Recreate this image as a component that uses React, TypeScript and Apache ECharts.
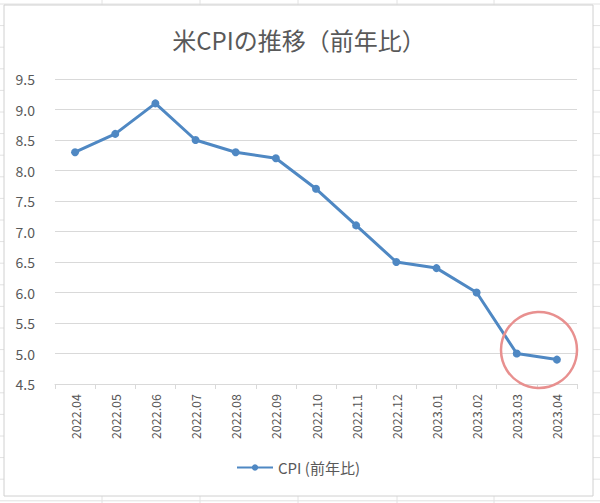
import React, { useEffect, useRef } from "react";
import * as echarts from "echarts";

const titleText = "米CPIの推移（前年比）";
const seriesName = "CPI (前年比)";
const categories = [
  "2022.04", "2022.05", "2022.06", "2022.07", "2022.08", "2022.09", "2022.10",
  "2022.11", "2022.12", "2023.01", "2023.02", "2023.03", "2023.04",
];
const cpiValues = [8.3, 8.6, 9.1, 8.5, 8.3, 8.2, 7.7, 7.1, 6.5, 6.4, 6.0, 5.0, 4.9];
const yMin = 4.5;
const yMax = 9.5;
const yInterval = 0.5;

const FONT = "'Noto Sans CJK JP', 'Noto Sans', sans-serif";

export default function App() {
  const ref = useRef<HTMLDivElement>(null);
  useEffect(() => {
    document.body.style.margin = "0";
    if (!ref.current) return;
    const chart = echarts.init(ref.current, null, { renderer: "svg" });

    const bg: any[] = [];
    const colXs = [102, 200, 298, 397, 494];
    colXs.forEach((x) =>
      bg.push({
        type: "line",
        z: -20,
        shape: { x1: x, y1: 0, x2: x, y2: 503 },
        style: { stroke: "#e2e2e2", lineWidth: 1 },
      })
    );
    for (let y = 4; y < 503; y += 21.6) {
      bg.push({
        type: "line",
        z: -20,
        shape: { x1: 0, y1: y, x2: 600, y2: y },
        style: { stroke: "#e2e2e2", lineWidth: 1 },
      });
    }
    bg.push({
      type: "rect",
      z: -10,
      shape: { x: 4, y: 5, width: 589, height: 491 },
      style: { fill: "#ffffff", stroke: "#d0d0d0", lineWidth: 1 },
    });
    bg.push({
      type: "circle",
      z: 100,
      shape: { cx: 539, cy: 350, r: 38 },
      style: { fill: "none", stroke: "#e8908f", lineWidth: 2.5 },
    });

    chart.setOption({
      animation: false,
      backgroundColor: "#ffffff",
      textStyle: { fontFamily: FONT },
      title: {
        text: titleText,
        left: 294,
        textAlign: "center",
        top: 22,
        textStyle: { fontSize: 24, fontWeight: "normal", color: "#595959", fontFamily: FONT },
      },
      graphic: bg,
      grid: { left: 55, right: 23, top: 79, bottom: 119, containLabel: false },
      legend: {
        top: 455,
        left: 231,
        itemWidth: 36,
        itemHeight: 8,
        itemGap: 4,
        textStyle: { fontSize: 15, color: "#595959", fontFamily: FONT },
        data: [seriesName],
      },
      xAxis: {
        type: "category",
        data: categories,
        boundaryGap: true,
        axisLine: { lineStyle: { color: "#d9d9d9", width: 1 } },
        axisTick: { show: true, length: 5, lineStyle: { color: "#d9d9d9" } },
        axisLabel: { rotate: 90, fontSize: 12.5, color: "#555555", margin: 10, fontFamily: FONT },
      },
      yAxis: {
        type: "value",
        min: yMin,
        max: yMax,
        interval: yInterval,
        axisLine: { show: false },
        axisTick: { show: false },
        axisLabel: {
          fontSize: 14,
          color: "#595959",
          margin: 20,
          fontFamily: FONT,
          formatter: (v: number) => v.toFixed(1),
        },
        splitLine: { lineStyle: { color: "#d9d9d9", width: 1 } },
      },
      series: [
        {
          name: seriesName,
          type: "line",
          data: cpiValues,
          symbol: "circle",
          symbolSize: 8,
          lineStyle: { color: "#4f88c3", width: 3 },
          itemStyle: { color: "#4f88c3" },
        },
      ],
    });
    return () => chart.dispose();
  }, []);
  return <div ref={ref} style={{ width: 600, height: 503 }} />;
}
